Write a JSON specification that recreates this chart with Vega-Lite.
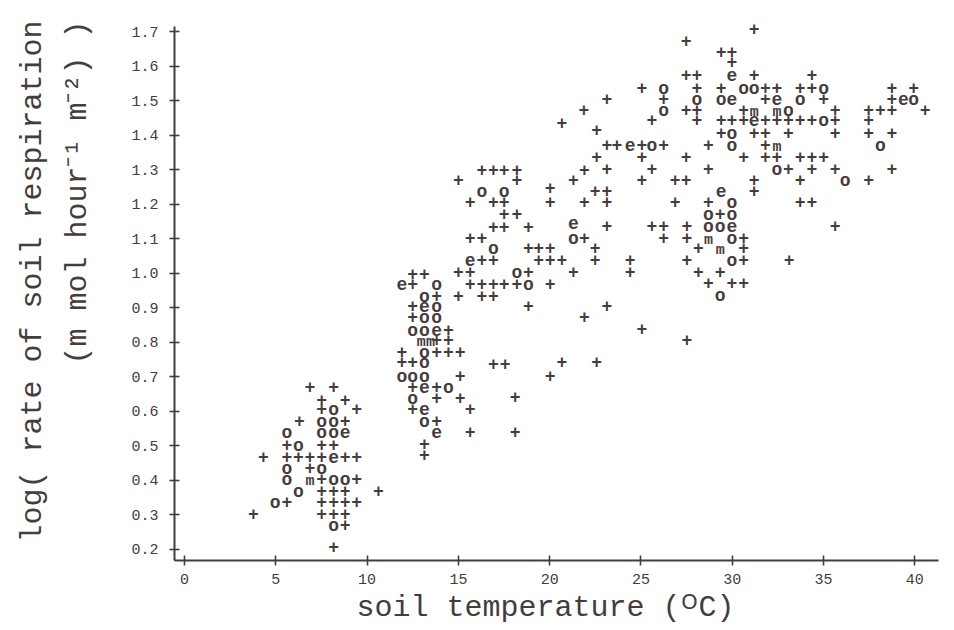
{
  "$schema": "https://vega.github.io/schema/vega-lite/v6.json",
  "autosize": "none",
  "width": 764,
  "height": 534,
  "padding": {"left": 174, "top": 26, "right": 16, "bottom": 70},
  "background": "white",
  "config": {"view": {"stroke": null}},
  "data": {"values": [
      {"s":"+","t":6.90,"r":0.666},{"s":"+","t":8.20,"r":0.666},{"s":"+","t":7.54,"r":0.630},{"s":"+","t":8.82,"r":0.630},{"s":"+","t":7.54,"r":0.603},{"s":"o","t":8.20,"r":0.603},{"s":"+","t":9.46,"r":0.603},{"s":"+","t":6.32,"r":0.569},{"s":"o","t":7.54,"r":0.569},{"s":"o","t":8.20,"r":0.569},{"s":"+","t":8.82,"r":0.569},{"s":"o","t":5.63,"r":0.535},{"s":"o","t":7.54,"r":0.535},{"s":"o","t":8.20,"r":0.535},{"s":"e","t":8.82,"r":0.535},{"s":"+","t":5.63,"r":0.497},{"s":"o","t":6.26,"r":0.497},{"s":"+","t":7.54,"r":0.497},{"s":"+","t":8.20,"r":0.497},{"s":"+","t":4.35,"r":0.463},{"s":"+","t":5.63,"r":0.463},{"s":"+","t":6.26,"r":0.463},{"s":"+","t":6.90,"r":0.463},{"s":"+","t":7.54,"r":0.463},{"s":"e","t":8.20,"r":0.463},{"s":"+","t":8.82,"r":0.463},{"s":"+","t":9.46,"r":0.463},{"s":"o","t":5.63,"r":0.431},{"s":"+","t":6.90,"r":0.431},{"s":"o","t":7.54,"r":0.431},{"s":"o","t":5.63,"r":0.400},{"s":"m","t":6.90,"r":0.400},{"s":"+","t":7.54,"r":0.400},{"s":"o","t":8.20,"r":0.400},{"s":"o","t":8.82,"r":0.400},{"s":"+","t":9.46,"r":0.400},{"s":"o","t":6.26,"r":0.366},{"s":"+","t":7.54,"r":0.366},{"s":"+","t":8.20,"r":0.366},{"s":"+","t":8.82,"r":0.366},{"s":"o","t":4.99,"r":0.332},{"s":"+","t":5.63,"r":0.332},{"s":"+","t":7.54,"r":0.332},{"s":"+","t":8.20,"r":0.332},{"s":"+","t":8.82,"r":0.332},{"s":"+","t":9.46,"r":0.332},{"s":"+","t":3.80,"r":0.299},{"s":"+","t":7.54,"r":0.299},{"s":"+","t":8.20,"r":0.299},{"s":"+","t":8.82,"r":0.299},{"s":"o","t":8.20,"r":0.267},{"s":"+","t":8.82,"r":0.267},{"s":"+","t":8.20,"r":0.202},{"s":"+","t":10.65,"r":0.366},
      {"s":"+","t":12.52,"r":0.994},{"s":"+","t":13.16,"r":0.994},{"s":"e","t":11.93,"r":0.965},{"s":"+","t":12.52,"r":0.965},{"s":"o","t":13.84,"r":0.965},{"s":"o","t":13.16,"r":0.931},{"s":"+","t":13.84,"r":0.931},{"s":"+","t":12.52,"r":0.902},{"s":"e","t":13.16,"r":0.902},{"s":"o","t":13.84,"r":0.902},{"s":"+","t":12.52,"r":0.869},{"s":"o","t":13.16,"r":0.869},{"s":"o","t":13.84,"r":0.869},{"s":"o","t":12.52,"r":0.830},{"s":"o","t":13.16,"r":0.830},{"s":"e","t":13.84,"r":0.830},{"s":"+","t":14.48,"r":0.830},{"s":"m","t":13.0,"r":0.801},{"s":"m","t":13.5,"r":0.801},{"s":"+","t":13.84,"r":0.801},{"s":"+","t":14.48,"r":0.801},{"s":"+","t":11.93,"r":0.767},{"s":"o","t":13.16,"r":0.767},{"s":"+","t":13.84,"r":0.767},{"s":"+","t":14.48,"r":0.767},{"s":"+","t":15.12,"r":0.767},{"s":"+","t":11.93,"r":0.738},{"s":"+","t":12.52,"r":0.738},{"s":"o","t":13.16,"r":0.738},{"s":"o","t":11.93,"r":0.699},{"s":"o","t":12.52,"r":0.699},{"s":"o","t":13.16,"r":0.699},{"s":"+","t":15.12,"r":0.699},{"s":"+","t":12.52,"r":0.666},{"s":"e","t":13.16,"r":0.666},{"s":"+","t":13.84,"r":0.666},{"s":"o","t":14.48,"r":0.666},{"s":"o","t":12.52,"r":0.634},{"s":"+","t":13.84,"r":0.634},{"s":"+","t":15.12,"r":0.634},{"s":"+","t":12.52,"r":0.603},{"s":"e","t":13.16,"r":0.603},{"s":"+","t":15.67,"r":0.603},{"s":"o","t":13.16,"r":0.569},{"s":"+","t":13.84,"r":0.569},{"s":"e","t":13.84,"r":0.535},{"s":"+","t":15.67,"r":0.535},{"s":"+","t":18.14,"r":0.535},{"s":"+","t":13.16,"r":0.501},{"s":"+","t":13.16,"r":0.468},{"s":"+","t":18.14,"r":0.638},{"s":"+","t":16.95,"r":0.733},{"s":"+","t":17.59,"r":0.733},{"s":"+","t":20.05,"r":0.699},{"s":"+","t":20.70,"r":0.738},{"s":"+","t":22.6,"r":0.738},
      {"s":"+","t":15.03,"r":1.265},{"s":"+","t":16.31,"r":1.294},{"s":"+","t":16.95,"r":1.294},{"s":"+","t":17.54,"r":1.294},{"s":"+","t":18.23,"r":1.294},{"s":"+","t":18.23,"r":1.265},{"s":"o","t":16.31,"r":1.233},{"s":"o","t":17.54,"r":1.233},{"s":"+","t":15.67,"r":1.202},{"s":"+","t":16.95,"r":1.202},{"s":"+","t":17.54,"r":1.202},{"s":"+","t":17.54,"r":1.168},{"s":"+","t":18.23,"r":1.168},{"s":"+","t":16.95,"r":1.130},{"s":"+","t":17.54,"r":1.130},{"s":"+","t":18.87,"r":1.130},{"s":"+","t":15.67,"r":1.098},{"s":"+","t":16.31,"r":1.098},{"s":"o","t":16.95,"r":1.068},{"s":"e","t":15.67,"r":1.033},{"s":"+","t":16.31,"r":1.033},{"s":"+","t":16.95,"r":1.033},{"s":"+","t":15.03,"r":0.999},{"s":"+","t":15.67,"r":0.999},{"s":"+","t":15.67,"r":0.965},{"s":"+","t":16.31,"r":0.965},{"s":"+","t":16.95,"r":0.965},{"s":"+","t":17.54,"r":0.965},{"s":"+","t":18.23,"r":0.965},{"s":"o","t":18.23,"r":0.999},{"s":"o","t":18.87,"r":0.965},{"s":"+","t":18.87,"r":0.999},{"s":"+","t":15.03,"r":0.931},{"s":"+","t":16.31,"r":0.931},{"s":"+","t":16.95,"r":0.931},{"s":"+","t":20.05,"r":0.965},{"s":"+","t":18.87,"r":0.902},
      {"s":"+","t":21.33,"r":1.265},{"s":"+","t":21.93,"r":1.294},{"s":"+","t":20.05,"r":1.243},{"s":"+","t":20.05,"r":1.202},{"s":"+","t":21.93,"r":1.202},{"s":"+","t":22.52,"r":1.233},{"s":"e","t":21.33,"r":1.140},{"s":"o","t":21.33,"r":1.098},{"s":"+","t":21.93,"r":1.098},{"s":"+","t":22.52,"r":1.068},{"s":"+","t":22.52,"r":1.033},{"s":"+","t":18.87,"r":1.068},{"s":"+","t":19.42,"r":1.068},{"s":"+","t":20.05,"r":1.068},{"s":"+","t":19.42,"r":1.033},{"s":"+","t":20.05,"r":1.033},{"s":"+","t":20.70,"r":1.033},{"s":"+","t":21.33,"r":0.999},{"s":"+","t":23.16,"r":0.902},{"s":"+","t":21.93,"r":0.869},
      {"s":"+","t":20.7,"r":1.43},{"s":"+","t":21.9,"r":1.47},{"s":"+","t":22.6,"r":1.41},{"s":"+","t":22.6,"r":1.333},
      {"s":"+","t":31.23,"r":1.704},{"s":"+","t":27.5,"r":1.668},{"s":"+","t":29.42,"r":1.637},{"s":"+","t":30.01,"r":1.637},{"s":"+","t":30.01,"r":1.608},{"s":"e","t":30.01,"r":1.571},{"s":"+","t":31.23,"r":1.571},{"s":"+","t":27.5,"r":1.571},{"s":"+","t":28.09,"r":1.571},{"s":"+","t":28.09,"r":1.533},{"s":"+","t":25.08,"r":1.533},{"s":"o","t":26.27,"r":1.533},{"s":"+","t":26.27,"r":1.501},{"s":"o","t":26.27,"r":1.470},{"s":"+","t":29.42,"r":1.533},{"s":"o","t":30.65,"r":1.533},{"s":"o","t":31.23,"r":1.533},{"s":"+","t":31.84,"r":1.533},{"s":"+","t":32.48,"r":1.533},{"s":"+","t":23.16,"r":1.501},{"s":"o","t":28.09,"r":1.501},{"s":"o","t":29.42,"r":1.501},{"s":"e","t":30.01,"r":1.501},{"s":"+","t":31.84,"r":1.501},{"s":"e","t":32.48,"r":1.501},{"s":"+","t":27.5,"r":1.470},{"s":"+","t":28.09,"r":1.470},{"s":"m","t":31.23,"r":1.470},{"s":"+","t":30.65,"r":1.470},{"s":"m","t":32.48,"r":1.470},{"s":"+","t":28.09,"r":1.439},{"s":"+","t":25.63,"r":1.439},{"s":"+","t":29.42,"r":1.439},{"s":"+","t":30.01,"r":1.439},{"s":"+","t":30.65,"r":1.439},{"s":"e","t":31.23,"r":1.439},{"s":"+","t":31.84,"r":1.439},{"s":"+","t":32.48,"r":1.439},{"s":"+","t":29.42,"r":1.403},{"s":"o","t":30.01,"r":1.403},{"s":"+","t":31.23,"r":1.403},{"s":"+","t":31.84,"r":1.403},{"s":"+","t":23.16,"r":1.366},{"s":"+","t":23.71,"r":1.366},{"s":"e","t":24.44,"r":1.366},{"s":"+","t":25.08,"r":1.366},{"s":"o","t":25.63,"r":1.366},{"s":"+","t":26.27,"r":1.366},{"s":"+","t":28.73,"r":1.366},{"s":"o","t":30.01,"r":1.366},{"s":"+","t":31.84,"r":1.366},{"s":"m","t":32.48,"r":1.366},{"s":"+","t":25.08,"r":1.333},{"s":"+","t":27.5,"r":1.333},{"s":"+","t":30.65,"r":1.333},{"s":"+","t":31.84,"r":1.333},{"s":"+","t":23.16,"r":1.299},{"s":"+","t":25.63,"r":1.299},{"s":"+","t":28.73,"r":1.299},{"s":"o","t":32.48,"r":1.299},{"s":"+","t":25.08,"r":1.265},{"s":"+","t":26.9,"r":1.265},{"s":"+","t":27.5,"r":1.265},{"s":"+","t":31.23,"r":1.265},{"s":"+","t":23.16,"r":1.233},{"s":"e","t":29.42,"r":1.233},{"s":"+","t":31.23,"r":1.233},
      {"s":"+","t":34.39,"r":1.571},{"s":"+","t":33.75,"r":1.533},{"s":"+","t":34.39,"r":1.533},{"s":"o","t":35.03,"r":1.533},{"s":"o","t":33.75,"r":1.501},{"s":"+","t":35.03,"r":1.501},{"s":"o","t":33.11,"r":1.470},{"s":"+","t":35.67,"r":1.470},{"s":"+","t":33.11,"r":1.439},{"s":"+","t":33.75,"r":1.439},{"s":"+","t":34.39,"r":1.439},{"s":"o","t":35.03,"r":1.439},{"s":"+","t":35.67,"r":1.439},{"s":"+","t":33.11,"r":1.403},{"s":"+","t":35.67,"r":1.403},{"s":"+","t":32.48,"r":1.333},{"s":"+","t":33.75,"r":1.333},{"s":"+","t":34.39,"r":1.333},{"s":"+","t":35.03,"r":1.333},{"s":"+","t":33.11,"r":1.299},{"s":"+","t":34.39,"r":1.299},{"s":"+","t":35.67,"r":1.299},{"s":"+","t":33.75,"r":1.265},{"s":"o","t":36.22,"r":1.265},{"s":"+","t":37.5,"r":1.265},{"s":"+","t":38.78,"r":1.533},{"s":"+","t":39.96,"r":1.533},{"s":"+","t":38.78,"r":1.501},{"s":"e","t":39.41,"r":1.501},{"s":"o","t":39.96,"r":1.501},{"s":"+","t":40.6,"r":1.470},{"s":"+","t":37.5,"r":1.470},{"s":"+","t":38.14,"r":1.470},{"s":"+","t":38.78,"r":1.470},{"s":"+","t":37.5,"r":1.439},{"s":"+","t":37.5,"r":1.403},{"s":"+","t":38.78,"r":1.403},{"s":"o","t":38.14,"r":1.366},{"s":"+","t":38.78,"r":1.299},
      {"s":"+","t":23.16,"r":1.202},{"s":"+","t":26.9,"r":1.202},{"s":"+","t":28.73,"r":1.202},{"s":"o","t":30.01,"r":1.202},{"s":"+","t":33.75,"r":1.202},{"s":"+","t":34.39,"r":1.202},{"s":"+","t":23.16,"r":1.132},{"s":"+","t":25.63,"r":1.132},{"s":"+","t":26.27,"r":1.132},{"s":"+","t":26.27,"r":1.099},{"s":"+","t":27.55,"r":1.132},{"s":"+","t":27.55,"r":1.099},{"s":"o","t":28.73,"r":1.168},{"s":"+","t":29.37,"r":1.168},{"s":"o","t":30.01,"r":1.168},{"s":"o","t":28.73,"r":1.132},{"s":"o","t":29.37,"r":1.132},{"s":"e","t":30.01,"r":1.132},{"s":"m","t":28.73,"r":1.099},{"s":"o","t":30.01,"r":1.099},{"s":"+","t":30.65,"r":1.099},{"s":"+","t":30.65,"r":1.068},{"s":"+","t":28.18,"r":1.068},{"s":"m","t":29.37,"r":1.068},{"s":"+","t":27.55,"r":1.035},{"s":"o","t":30.01,"r":1.035},{"s":"+","t":30.65,"r":1.035},{"s":"+","t":33.15,"r":1.035},{"s":"+","t":24.44,"r":1.035},{"s":"+","t":24.44,"r":1.0},{"s":"+","t":28.18,"r":1.0},{"s":"+","t":29.37,"r":1.0},{"s":"+","t":28.73,"r":0.968},{"s":"+","t":30.01,"r":0.968},{"s":"+","t":30.65,"r":0.968},{"s":"o","t":29.37,"r":0.933},{"s":"+","t":25.08,"r":0.835},{"s":"+","t":27.55,"r":0.801},{"s":"+","t":35.67,"r":1.134}
  ]},
  "encoding": {
    "x": {
      "field": "t", "type": "quantitative",
      "scale": {"domain": [-0.55, 41.3], "nice": false, "zero": false},
      "axis": {
        "values": [0, 5, 10, 15, 20, 25, 30, 35, 40],
        "domain": true, "domainColor": "#453c3c", "domainWidth": 2,
        "grid": true, "gridDash": [0, 529, 5, 2000], "gridColor": "#453c3c", "gridWidth": 1.6, "gridOpacity": 1,
        "ticks": true, "tickSize": 5, "tickWidth": 1.6, "tickColor": "#453c3c",
        "labelOverlap": false,
        "labelFont": "Liberation Mono", "labelFontSize": 15, "labelColor": "#453c3c", "labelPadding": 6,
        "title": "soil temperature (ᴼC)", "titleFont": "Liberation Mono", "titleFontSize": 30, "titleFontWeight": "normal",
        "titleColor": "#453c3c", "titleX": 371, "titleY": 46, "titleBaseline": "middle"
      }
    },
    "y": {
      "field": "r", "type": "quantitative",
      "scale": {"domain": [0.168, 1.715], "nice": false, "zero": false},
      "axis": {
        "values": [0.2, 0.3, 0.4, 0.5, 0.6, 0.7, 0.8, 0.9, 1.0, 1.1, 1.2, 1.3, 1.4, 1.5, 1.6, 1.7],
        "format": ".1f", "labelOverlap": false,
        "domain": true, "domainColor": "#453c3c", "domainWidth": 2,
        "grid": true, "gridDash": [5, 3000], "gridColor": "#453c3c", "gridWidth": 1.6, "gridOpacity": 1,
        "ticks": true, "tickSize": 5, "tickWidth": 1.6, "tickColor": "#453c3c",
        "labelFont": "Liberation Mono", "labelFontSize": 15, "labelColor": "#453c3c", "labelPadding": 11,
        "title": ["log( rate of soil respiration", "(m mol hour⁻¹ m⁻²) )"],
        "titleFont": "Liberation Mono", "titleFontSize": 30, "titleFontWeight": "normal", "titleColor": "#453c3c",
        "titleAngle": -90, "titleAlign": "right", "titleBaseline": "top", "titleLineHeight": 45,
        "titleX": -158, "titleY": -6
      }
    },
    "text": {"field": "s"}
  },
  "layer": [
    {
      "transform": [{"filter": "datum.s !== 'm'"}],
      "mark": {"type": "text", "font": "Liberation Mono", "fontSize": 18, "fontWeight": "bold", "fill": "#453c3c", "baseline": "middle", "align": "center"}
    },
    {
      "transform": [{"filter": "datum.s === 'm'"}],
      "mark": {"type": "text", "font": "Liberation Mono", "fontSize": 15, "fontWeight": "bold", "fill": "#453c3c", "baseline": "middle", "align": "center"}
    }
  ]
}
